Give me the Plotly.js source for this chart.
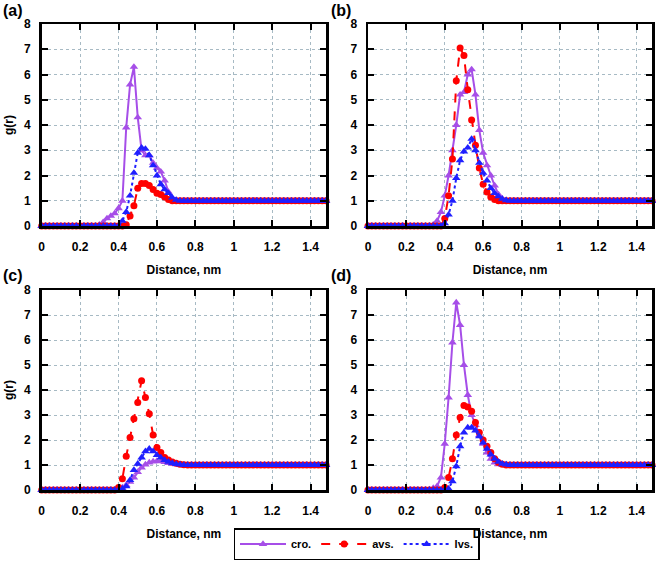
<!DOCTYPE html>
<html>
<head>
<meta charset="utf-8">
<script src="https://cdn.plot.ly/plotly-3.0.1.min.js"></script>
<style>html,body{margin:0;padding:0;background:#fff;}#chart{width:656px;height:561px;}</style>
</head>
<body>
<div id="chart"></div>
<script>
// distance grid (nm)
const distance = [0,0.02,0.04,0.06,0.08,0.1,0.12,0.14,0.16,0.18,0.2,0.22,0.24,0.26,0.28,
  0.3,0.32,0.34,0.36,0.38,0.4,0.42,0.44,0.46,0.48,0.5,0.52,0.54,0.56,0.58,0.6,0.62,0.64,0.66,0.68,0.7,0.72,0.74,
  0.76,0.78,0.8,0.82,0.84,0.86,0.88,0.9,0.92,0.94,0.96,0.98,1,1.02,1.04,1.06,1.08,1.1,1.12,1.14,1.16,1.18,1.2,
  1.22,1.24,1.26,1.28,1.3,1.32,1.34,1.36,1.38,1.4,1.42,1.44,1.46,1.48];

// g(r) for 0 .. 0.28 nm
const leadZeros = [0,0,0,0,0,0,0,0,0,0,0,0,0,0,0];
// g(r) for 0.76 .. 1.48 nm
const tailOnes = [1,1,1,1,1,1,1,1,1,1,1,1,1,1,1,1,1,1,1,1,1,1,1,1,1,1,1,1,1,1,1,1,1,1,1,1,1];

// g(r) for 0.30 .. 0.74 nm (23 values each)
const cro_a = [0.05,0.15,0.3,0.4,0.5,0.7,1.0,3.9,5.6,6.3,4.3,3.0,2.8,2.8,2.5,2.3,2.15,1.8,1.35,1.1,1.02,1.0,1.0];
const avs_a = [0,0,0,0,0,0,0,0.05,0.4,0.8,1.5,1.68,1.68,1.6,1.45,1.3,1.25,1.15,1.05,1.0,1.0,1.0,1.0];
const lvs_a = [0,0,0,0,0,0,0.2,0.55,1.2,2.1,2.9,3.1,3.05,2.8,2.4,2.0,1.65,1.45,1.3,1.12,1.03,1.0,1.0];

const cro_b = [0,0,0.05,0.2,0.55,1.2,2.0,3.0,4.0,5.2,5.3,6.0,6.2,5.2,3.8,2.9,2.4,2.0,1.6,1.25,1.08,1.02,1.0];
const avs_b = [0,0,0,0,0,0.3,1.2,2.65,5.75,7.05,6.75,5.4,4.2,3.2,2.3,1.65,1.35,1.15,1.05,1.0,1.0,1.0,1.0];
const lvs_b = [0,0,0,0,0,0.1,0.45,1.0,1.9,2.6,2.95,3.1,3.45,3.0,2.5,2.1,1.8,1.5,1.3,1.17,1.07,1.02,1.0];

const cro_c = [0,0,0,0,0,0.02,0.1,0.2,0.33,0.5,0.72,0.9,1.02,1.1,1.14,1.16,1.15,1.12,1.08,1.05,1.03,1.01,1.0];
const avs_c = [0,0,0,0,0,0.1,0.45,1.35,2.1,2.85,3.5,4.37,3.7,3.05,2.2,1.7,1.5,1.3,1.2,1.12,1.07,1.03,1.01];
const lvs_c = [0,0,0,0,0,0,0.05,0.15,0.4,0.8,1.05,1.3,1.55,1.65,1.55,1.4,1.3,1.2,1.13,1.08,1.04,1.02,1.0];

const cro_d = [0,0.02,0.08,0.15,0.5,1.85,3.7,5.9,7.5,6.6,5.0,3.8,3.0,2.6,2.2,1.85,1.5,1.25,1.1,1.03,1.0,1.0,1.0];
const avs_d = [0,0,0,0,0,0.1,0.5,1.25,2.2,2.9,3.38,3.32,3.15,2.7,2.3,2.0,1.75,1.5,1.25,1.1,1.03,1.0,1.0];
const lvs_d = [0,0,0,0,0,0,0.05,0.35,0.95,1.75,2.3,2.5,2.5,2.38,2.15,1.9,1.65,1.42,1.25,1.13,1.05,1.02,1.0];

const seriesNames = ['cro.', 'avs.', 'lvs.'];
const panelLabels = ['(a)', '(b)', '(c)', '(d)'];
const xTickVals = [0,0.2,0.4,0.6,0.8,1,1.2,1.4];
const xTickText = ['0','0.2','0.4','0.6','0.8','1','1.2','1.4'];
const yTickVals = [0,1,2,3,4,5,6,7,8];

const panels = [
  [cro_a, avs_a, lvs_a],
  [cro_b, avs_b, lvs_b],
  [cro_c, avs_c, lvs_c],
  [cro_d, avs_d, lvs_d]
];

const full = arr => leadZeros.concat(arr, tailOnes);

const styles = [
  {color:'#a64ee8', dash:'solid', symbol:'triangle-up', size:7.5},
  {color:'#ff0000', dash:'dash', symbol:'circle', size:7},
  {color:'#1f1fff', dash:'dot', symbol:'triangle-up', size:7.5}
];

const W = 656, H = 561;
const FONT = 'Arial, "Liberation Sans", sans-serif';
const boxes = [
  {l:41.7, r:326, t:24, b:226},
  {l:368, r:652, t:24, b:226},
  {l:41.7, r:326, t:290, b:490},
  {l:368, r:652, t:290, b:490}
];

const traces = [];
panels.forEach((p, pi) => {
  p.forEach((vals, si) => {
    const s = styles[si];
    traces.push({
      type:'scatter', mode:'lines+markers',
      x: distance, y: full(vals),
      name: seriesNames[si],
      xaxis: 'x' + (pi+1), yaxis: 'y' + (pi+1),
      line:{color:s.color, width:2, dash:s.dash},
      marker:{color:s.color, size:s.size, symbol:s.symbol},
      cliponaxis:false,
      showlegend: pi === 0,
      hoverinfo:'skip'
    });
  });
});

const tickFont = {family:FONT, size:12, weight:'bold', color:'#000'};
const titleFont = {family:FONT, size:12, weight:'bold', color:'#000'};
const layout = {
  width: W, height: H,
  margin:{l:0, r:0, t:0, b:0},
  paper_bgcolor:'#fff', plot_bgcolor:'#fff',
  showlegend:true,
  legend:{
    orientation:'h', x:356.5/W, y:1/H, xanchor:'center', yanchor:'bottom',
    bordercolor:'#000', borderwidth:1.5, bgcolor:'#fff',
    font:{family:FONT, size:11, weight:'bold', color:'#000'},
    itemwidth:46, tracegroupgap:0
  },
  annotations: [],
  font:{family:FONT}
};

boxes.forEach((b, i) => {
  const n = i + 1;
  const xa = {
    domain:[b.l/W, b.r/W], anchor:'y'+n, range:[0,1.48],
    tickvals:xTickVals, ticktext:xTickText,
    showline:true, linewidth:2.5, linecolor:'#000', mirror:'ticks',
    ticks:'inside', ticklen:6, tickwidth:2, tickcolor:'#000',
    showgrid:true, gridcolor:'#a7bac4', griddash:'dot', gridwidth:1,
    zeroline:false, tickfont:tickFont, ticklabelstandoff:8,
    title:{text:'Distance, nm', font:titleFont, standoff:13}
  };
  const ya = {
    domain:[1-b.b/H, 1-b.t/H], anchor:'x'+n, range:[0,8],
    tickvals:yTickVals,
    showline:true, linewidth:2.5, linecolor:'#000', mirror:'ticks',
    ticks:'inside', ticklen:6, tickwidth:2, tickcolor:'#000',
    showgrid:true, gridcolor:'#a7bac4', griddash:'dot', gridwidth:1,
    zeroline:false, tickfont:tickFont, ticklabelstandoff:6
  };
  if (i % 2 === 0) {
    ya.title = {text:'g(r)', font:titleFont, standoff:8};
  }
  layout['xaxis' + n] = xa;
  layout['yaxis' + n] = ya;
  layout.annotations.push({
    text: panelLabels[i], xref:'paper', yref:'paper',
    x: (i % 2 === 0 ? 1 : 329) / W, y: 1 - (i < 2 ? 0 : 265) / H,
    xanchor:'left', yanchor:'top', showarrow:false,
    font:{family:FONT, size:16, weight:'bold', color:'#000'}
  });
});

Plotly.newPlot('chart', traces, layout, {displayModeBar:false, staticPlot:true});
</script>
</body>
</html>
